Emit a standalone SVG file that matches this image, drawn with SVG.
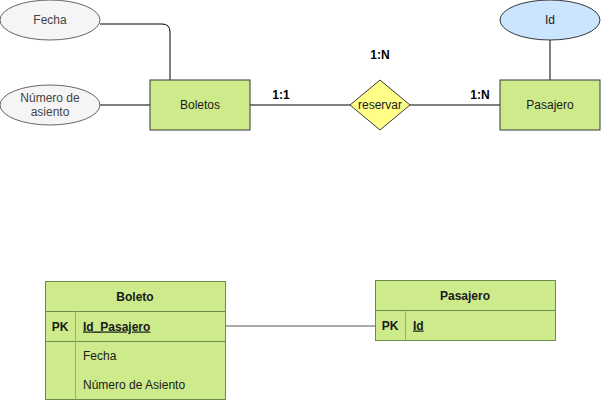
<svg xmlns="http://www.w3.org/2000/svg" width="601" height="401" viewBox="0 0 601 401">
<style>
text{font-family:"Liberation Sans",Arial,sans-serif;font-size:12px;fill:#1a1a1a;}
.c{text-anchor:middle;dominant-baseline:central;}
.b{font-weight:bold;fill:#000;}
.ent{fill:#cdeb8b;stroke:#36393d;stroke-width:1;}
.attr{fill:#f5f5f5;stroke:#666;stroke-width:1;}
.key{fill:#cce5ff;stroke:#36393d;stroke-width:1;}
.rel{fill:#ffff88;stroke:#36393d;stroke-width:1;}
.line{fill:none;stroke:#000;stroke-width:1;}
.tbl{fill:#cdeb8b;stroke:#6c8c4c;stroke-width:1;}
.div{stroke:#9aae7c;stroke-width:1;fill:none;}
.gray{fill:#444;}
</style>
<g id="connectors">
<path class="line" d="M100,24 H162 Q170,24 170,32 V80"/>
<path class="line" d="M100,105 H150"/>
<path class="line" d="M250,105 H350"/>
<path class="line" d="M410,105 H500"/>
<path class="line" d="M550,40 V80"/>
<path d="M225,326 H375" stroke="#555" stroke-width="1" fill="none"/>
</g>
<g id="fecha"><ellipse class="attr" cx="50" cy="20" rx="50" ry="20"/><text class="c gray" x="50" y="20">Fecha</text></g>
<g id="numero"><ellipse class="attr" cx="50" cy="105" rx="50" ry="20"/><text class="c gray" x="50" y="98">Número de</text><text class="c gray" x="50" y="112">asiento</text></g>
<g id="boletos"><rect class="ent" x="150" y="80" width="100" height="50"/><text class="c" x="200" y="105">Boletos</text></g>
<g id="reservar"><polygon class="rel" points="380,80 410,105 380,130 350,105"/><text class="c" x="380" y="105">reservar</text></g>
<g id="pasajero"><rect class="ent" x="500" y="80" width="100" height="50"/><text class="c" x="550" y="105">Pasajero</text></g>
<g id="id"><ellipse class="key" cx="550" cy="20" rx="50" ry="20"/><text class="c" x="550" y="20">Id</text></g>
<g id="labels">
<text class="c b" x="281" y="95">1:1</text>
<text class="c b" x="380" y="55">1:N</text>
<text class="c b" x="480" y="95">1:N</text>
</g>
<g id="tabla-boleto">
<rect class="tbl" x="45.5" y="281.5" width="180" height="118"/>
<line class="tbl" x1="45.5" y1="311.5" x2="225.5" y2="311.5"/>
<line class="tbl" x1="45.5" y1="341.5" x2="225.5" y2="341.5"/>
<line class="div" x1="75.5" y1="311.5" x2="75.5" y2="399.5"/>
<text class="c" x="135" y="296.5" font-weight="bold">Boleto</text>
<text class="c" x="60" y="326.5" font-weight="bold">PK</text>
<text x="83" y="330.5" text-decoration="underline" font-weight="bold">Id_Pasajero</text>
<text x="83" y="360">Fecha</text>
<text x="83" y="389">Número de Asiento</text>
</g>
<g id="tabla-pasajero">
<rect class="tbl" x="375.5" y="280.5" width="180" height="60"/>
<line class="tbl" x1="375.5" y1="310.5" x2="555.5" y2="310.5"/>
<line class="div" x1="405.5" y1="310.5" x2="405.5" y2="340.5"/>
<text class="c" x="465" y="295.5" font-weight="bold">Pasajero</text>
<text class="c" x="390" y="325.5" font-weight="bold">PK</text>
<text x="413" y="329.5" text-decoration="underline" font-weight="bold">Id</text>
</g>
</svg>
